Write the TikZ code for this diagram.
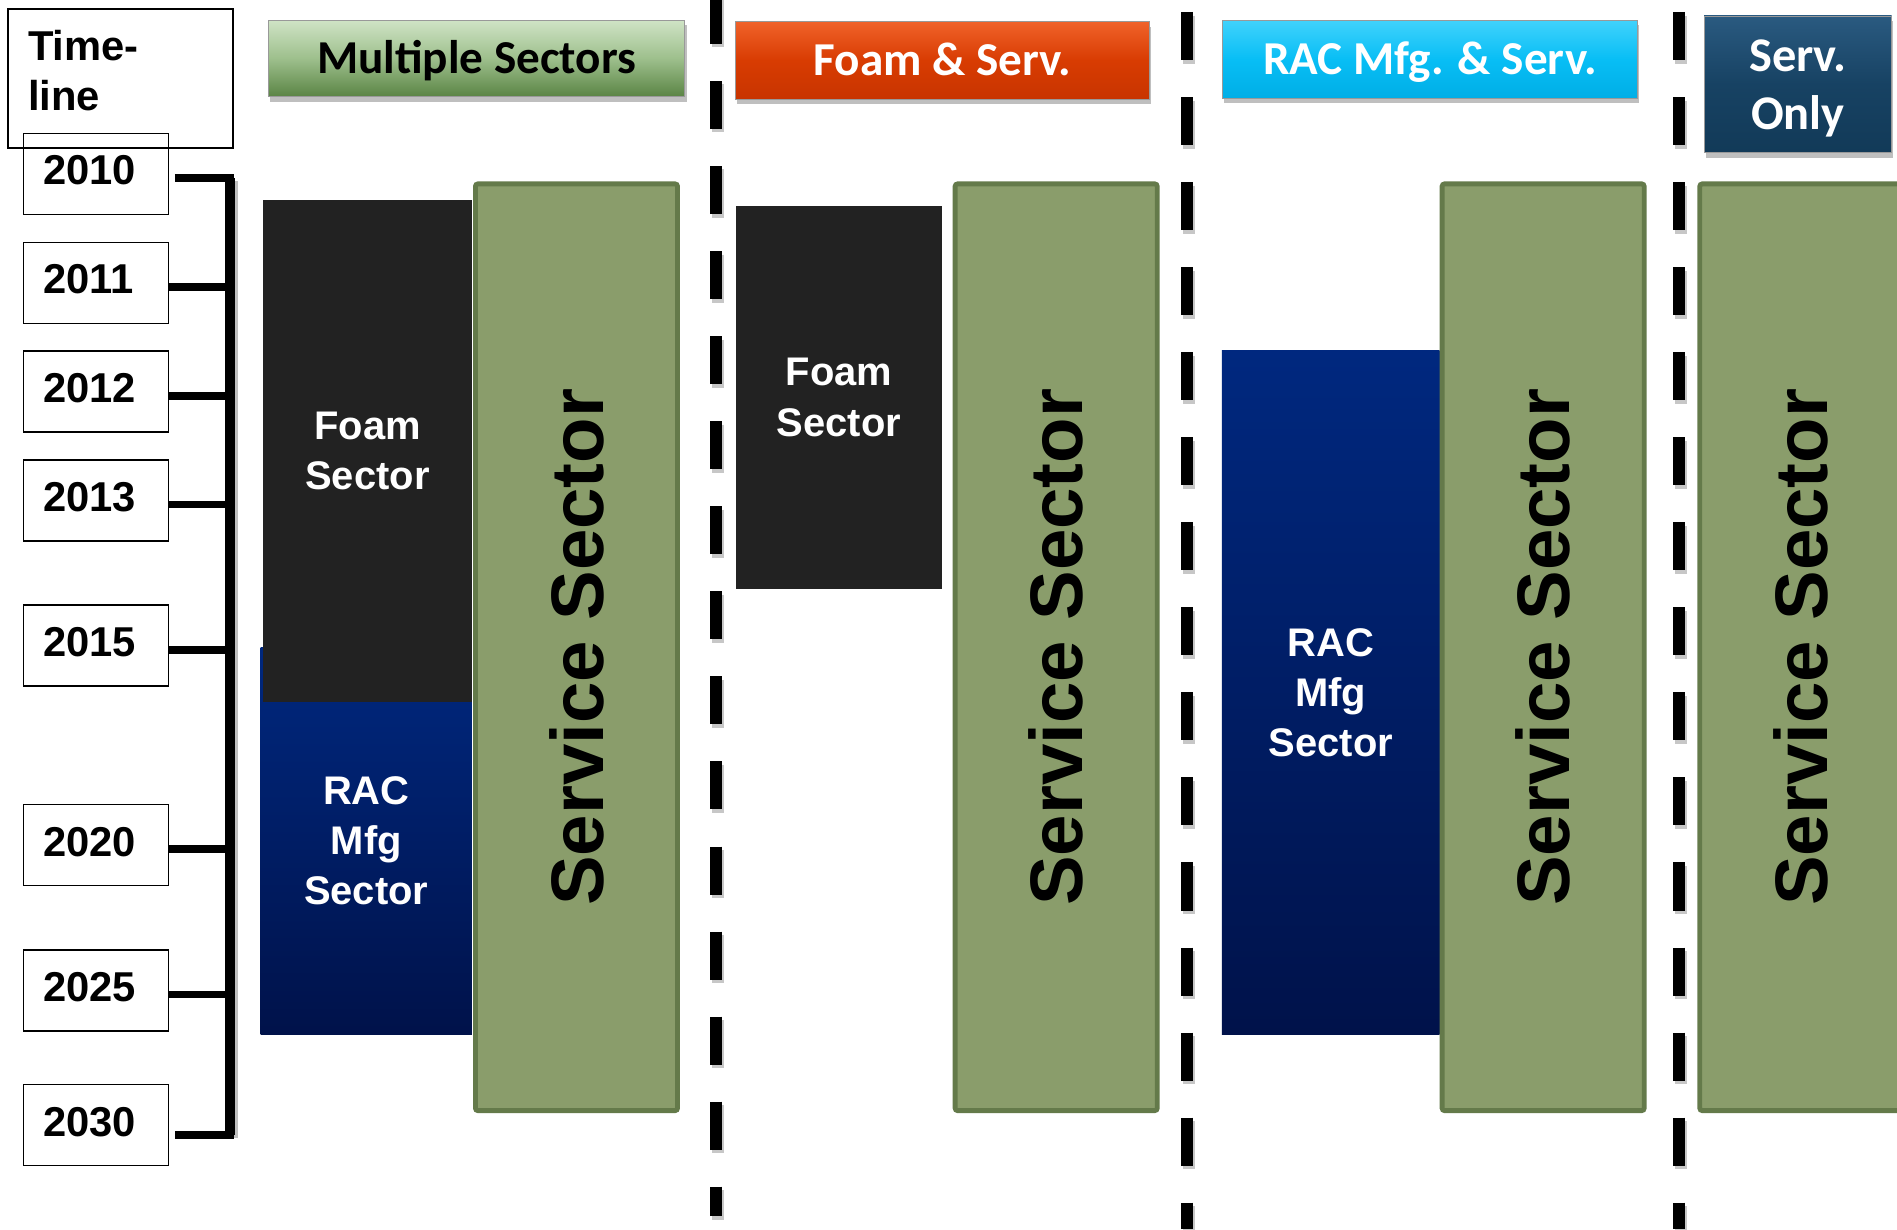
\documentclass[tikz,border=0pt]{standalone}
\usepackage{fontspec}
\setmainfont{Liberation Sans}
\newfontfamily\hdrfont{Carlito}
\usetikzlibrary{shadows}
\definecolor{sgreen}{HTML}{8A9D6B}
\definecolor{sgreenb}{HTML}{647A4A}
\definecolor{blk}{HTML}{222222}
\definecolor{racTop}{HTML}{00287F}
\definecolor{racBot}{HTML}{00124A}
\definecolor{msTop}{HTML}{CFE3C5}
\definecolor{msMid}{HTML}{9DBF8C}
\definecolor{msBot}{HTML}{5A8444}
\definecolor{fsTop}{HTML}{F0622A}
\definecolor{fsMid}{HTML}{D83C02}
\definecolor{fsBot}{HTML}{C83400}
\definecolor{rsTop}{HTML}{40D2FC}
\definecolor{rsMid}{HTML}{08BEF5}
\definecolor{rsBot}{HTML}{00AEE6}
\definecolor{soTop}{HTML}{2A5A80}
\definecolor{soMid}{HTML}{174263}
\definecolor{soBot}{HTML}{123A58}
\begin{document}
\begin{tikzpicture}[x=1pt,y=-1pt,
  yearbox/.style={draw=black, line width=1.3pt, minimum width=119.8pt, minimum height=67pt,
    inner xsep=16.5pt, text width=86.8pt, align=left, text depth=6pt,
    font=\bfseries\fontsize{34.5}{41}\selectfont},
  tick/.style={line width=6.5pt},
  hdr/.style={inner sep=0pt, draw=black!40, line width=0.6pt,
    font=\hdrfont\bfseries\fontsize{39}{43}\selectfont,
    drop shadow={shadow xshift=1.5pt, shadow yshift=-4pt, opacity=0.25, fill=black}},
  hdrone/.style={hdr, text height=25pt, text depth=0pt},
  innertext/.style={text=white, align=center, inner sep=0pt,
    font=\bfseries\fontsize{33}{41.5}\selectfont},
  blkbox/.style={innertext, fill=blk},
  racbox/.style={innertext, top color=racTop, bottom color=racBot},
  sbox/.style={rotate=90, fill=sgreen, draw=sgreenb, line width=4pt, rounded corners=2pt,
    minimum width=766pt, minimum height=167pt, inner sep=0pt,
    font=\bfseries\fontsize{61.5}{70}\selectfont},
  sepline/.style={line width=9.9pt, dash pattern=on 39.7pt off 30.6pt},
  sepshadow/.style={sepline, black!22}
]
\useasboundingbox (0,0) rectangle (1568,1016);
\clip (0,0) rectangle (1568,1016);
\fill[white] (0,0) rectangle (1568,1016);

% separators (shadow first)
\draw[sepshadow] (593.5,-0.5) -- (593.5,1008);
\draw[sepshadow] (982.5,12.9) -- (982.5,1019);
\draw[sepshadow] (1389.5,12.9) -- (1389.5,1019);
\draw[sepline] (592,-3.3) -- (592,1005);
\draw[sepline] (981,9.9) -- (981,1016);
\draw[sepline] (1388,9.9) -- (1388,1016);

% headers
\node[hdrone, minimum width=344pt, minimum height=63pt,
  top color=msTop, bottom color=msBot, middle color=msMid] (hMS) at (394,48.5) {Multiple Sectors};
\node[hdrone, text=white, minimum width=342pt, minimum height=64pt,
  top color=fsTop, bottom color=fsBot, middle color=fsMid] (hFS) at (779,50) {Foam \& Serv.};
\node[hdrone, text=white, minimum width=343pt, minimum height=64pt,
  top color=rsTop, bottom color=rsBot, middle color=rsMid] (hRS) at (1182,49) {RAC Mfg. \& Serv.};
\node[hdr, text=white, align=center, minimum width=155pt, minimum height=113pt,
  top color=soTop, bottom color=soBot, middle color=soMid,
  font=\hdrfont\bfseries\fontsize{40}{47.5}\selectfont] (hSO) at (1486,69.7) {};
\node[text=white, align=center, inner sep=0pt,
  font=\hdrfont\bfseries\fontsize{40}{47.5}\selectfont] (tSO) at (1486,73) {Serv.\\Only};

% timeline box
\draw[line width=1.3pt] (6.6,7.4) rectangle (192.6,122.3);
\node[anchor=north west, inner sep=0pt, align=left,
  font=\bfseries\fontsize{34.5}{41.3}\selectfont] (tl) at (23,25) {Time-\\line};

% year boxes
\node[yearbox] (y2010) at (79.2,143.7) {2010};
\node[yearbox] (y2011) at (79.2,233.8) {2011};
\node[yearbox] (y2012) at (79.2,323.5) {2012};
\node[yearbox] (y2013) at (79.2,413.5) {2013};
\node[yearbox] (y2015) at (79.2,533.5) {2015};
\node[yearbox] (y2020) at (79.2,698.5) {2020};
\node[yearbox] (y2025) at (79.2,818.5) {2025};
\node[yearbox] (y2030) at (79.2,930) {2030};

% bracket
\coordinate (bt) at (190,147.4);
\coordinate (bb) at (190,938);
\coordinate (s2010) at ([xshift=4.7pt,yshift=-3.7pt]y2010.east);
\coordinate (s2030) at ([xshift=4.7pt,yshift=-8pt]y2030.east);
\draw[black!25, line width=6pt] (194,150) -- (194,941);
\draw[tick] (s2010) -- (bt) -- (bb) -- (s2030);
\draw[line width=8pt] (bt) -- (bb);
\foreach \y in {2011,2012,2013,2015,2020,2025}{
  \coordinate (s\y) at ([yshift=-3.5pt]y\y.east);
  \draw[tick] (s\y) -- (s\y -| bt);
}

% column 1
\node[racbox, minimum width=174.5pt, minimum height=320pt] (r1) at (302.75,695) {RAC\\Mfg\\Sector};
\node[blkbox, minimum width=172.5pt, minimum height=415pt] (f1) at (303.75,372.5) {Foam\\Sector};
\node[sbox] (s1) at (476.5,535) {Service Sector};

% column 2
\node[blkbox, minimum width=171pt, minimum height=317pt] (f2) at (693.5,328.5) {Foam\\Sector};
\node[sbox] (s2) at (873,535) {Service Sector};

% column 3
\node[racbox, minimum width=180pt, minimum height=565pt] (r3) at (1100,572.5) {RAC\\Mfg\\Sector};
\node[sbox] (s3) at (1275.5,535) {Service Sector};

% column 4
\node[sbox] (s4) at (1488.5,535) {Service Sector};
\end{tikzpicture}
\end{document}
